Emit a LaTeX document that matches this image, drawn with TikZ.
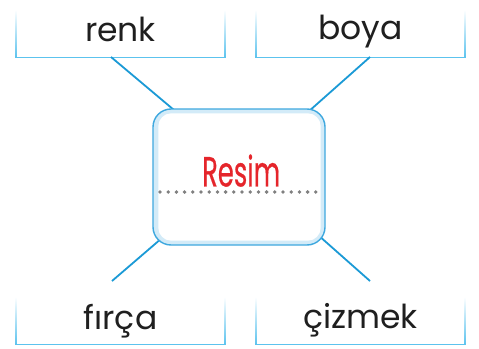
\documentclass[tikz,border=0pt]{standalone}
\usepackage{fontspec}
\setmainfont{Poppins}
\newfontfamily\resfont{Poppins}[FakeBold=0.6]
\usetikzlibrary{calc}
\definecolor{conn}{HTML}{1B9AD6}
\definecolor{boxline}{HTML}{5CC3EE}
\definecolor{cborder}{HTML}{3EA8DF}
\definecolor{cband}{HTML}{D3EBF8}
\definecolor{resred}{HTML}{E5252B}
\definecolor{dotgray}{HTML}{808080}
\tikzset{
  connector/.style={draw=conn, line width=1.8pt},
  labeltext/.style={font=\fontsize{33}{36}\selectfont, text=black!88, anchor=base, inner sep=0pt},
  holder/.style={draw=none, minimum width=209pt, minimum height=47pt, inner sep=0pt},
}
\newcommand{\openbox}[1]{%
  \shade[top color=white, bottom color=boxline] ($(#1.south west)+(-0.7,0)$) rectangle ($(#1.north west)+(0.7,0)$);
  \shade[top color=white, bottom color=boxline] ($(#1.south east)+(-0.7,0)$) rectangle ($(#1.north east)+(0.7,0)$);
  \draw[boxline, line width=1.4pt] ($(#1.south west)+(-0.7,0)$) -- ($(#1.south east)+(0.7,0)$);
}
\begin{document}
\begin{tikzpicture}[x=1pt,y=-1pt]
\path[fill=white, use as bounding box] (0,0) rectangle (479,348);
% holders for the four open boxes
\node[holder] (b1) at (120.5,33.5) {};
\node[holder] (b2) at (360.5,33.5) {};
\node[holder] (b3) at (120.5,320.5) {};
\node[holder] (b4) at (360.5,320.5) {};
\openbox{b1}\openbox{b2}\openbox{b3}\openbox{b4}
\node[labeltext] (renk) at (120.5,41) {renk};
\node[labeltext] (boya) at (360.5,39.5) {boya};
\node[labeltext] (firca) at (120.5,329) {fırça};
\node[labeltext] (cizmek) at (360.5,328) {çizmek};
% connector end points
\coordinate (e1) at (111,57);
\coordinate (e2) at (370,57);
\coordinate (e3) at (112,281);
\coordinate (e4) at (370,281);
\coordinate (k1) at (174,110);
\coordinate (k2) at (308,112);
\coordinate (k3) at (162,238);
\coordinate (k4) at (318,235);
\draw[connector] (e1) -- (k1);
\draw[connector] (e2) -- (k2);
\draw[connector] (e3) -- (k3);
\draw[connector] (e4) -- (k4);
% central box
\node[draw=cborder, fill=cband, line width=1.4pt, rounded corners=18pt, minimum width=172pt, minimum height=136pt, inner sep=0pt] (c) at (239,177) {};
\fill[white, rounded corners=13pt] ($(c.north west)+(6,5)$) rectangle ($(c.south east)+(-5,-5)$);
\foreach \i in {0,...,19} \fill[dotgray] (160+\i*8.2,192) circle (1.9pt);
\node[anchor=south west, inner sep=0pt, text=resred] (resim) at (202,187) {\resizebox{78pt}{32pt}{\resfont Resim}};
\end{tikzpicture}
\end{document}
